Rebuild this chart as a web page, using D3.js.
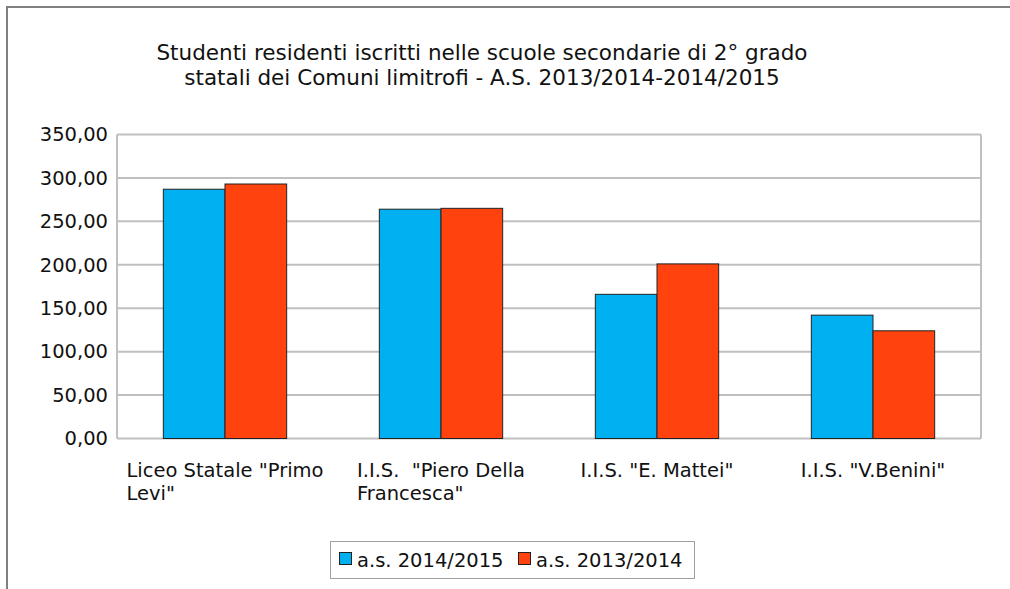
<!DOCTYPE html>
<html>
<head>
<meta charset="utf-8">
<script src="https://cdn.jsdelivr.net/npm/d3@7"></script>
<style>
  html, body { margin: 0; background: #fff; overflow: hidden; }
  svg { display: block; }
  text { font-family: "DejaVu Sans", Verdana, sans-serif; fill: #111; white-space: pre; }
</style>
</head>
<body>
<div id="chart"></div>
<script>
// chart data
var categories = [
  ['Liceo Statale "Primo', 'Levi"'],
  ['I.I.S.  "Piero Della', 'Francesca"'],
  ['I.I.S. "E. Mattei"'],
  ['I.I.S. "V.Benini"']
];
var seriesNames = ['a.s. 2014/2015', 'a.s. 2013/2014'];
var values2014 = [287, 264, 166, 142];
var values2013 = [293, 265, 201, 124];
var yTicks = [0, 50, 100, 150, 200, 250, 300, 350];
var titleLines = [
  'Studenti residenti iscritti nelle scuole secondarie di 2° grado',
  'statali dei Comuni limitrofi - A.S. 2013/2014-2014/2015'
];
var colors = ['#00b0f0', '#ff420e'];

window.onload = function() {
  var width = 1010;
  var height = 589;

  var svg = d3.select('#chart')
              .append('svg')
              .attr('width', width)
              .attr('height', height);

  // outer frame: only the top and left edges fall inside the picture
  svg.append('path')
     .attr('d', 'M7,' + height + 'V7H' + width)
     .attr('fill', 'none')
     .attr('stroke', '#808080')
     .attr('stroke-width', 2);

  // title
  svg.append('g').selectAll('text')
     .data(titleLines)
     .enter()
     .append('text')
     .attr('x', 482)
     .attr('y', function(d, i) { return 60 + i * 25; })
     .attr('text-anchor', 'middle')
     .style('font-size', '21.5px')
     .text(function(d) { return d; });

  var left = 117, right = 981, top = 134.5, bottom = 438.5;

  var x = d3.scaleBand()
            .domain(d3.range(categories.length))
            .range([left, right])
            .paddingInner(0.429)
            .paddingOuter(0.2145);
  var xs = d3.scaleBand()
             .domain([0, 1])
             .range([0, x.bandwidth()]);
  var y = d3.scaleLinear()
            .domain([0, 350])
            .range([bottom, top]);

  var it = d3.formatLocale({ decimal: ',', thousands: '.', grouping: [3], currency: ['€', ''] });
  var fmt = it.format('.2f');

  // grid lines
  svg.append('g').selectAll('line')
     .data(yTicks)
     .enter()
     .append('line')
     .attr('x1', left).attr('x2', right)
     .attr('y1', function(d) { return y(d); })
     .attr('y2', function(d) { return y(d); })
     .attr('stroke', '#c0c0c0')
     .attr('stroke-width', 2);

  // plot frame sides
  svg.append('line')
     .attr('x1', left).attr('x2', left)
     .attr('y1', top).attr('y2', bottom)
     .attr('stroke', '#c0c0c0').attr('stroke-width', 2);
  svg.append('line')
     .attr('x1', right).attr('x2', right)
     .attr('y1', top).attr('y2', bottom)
     .attr('stroke', '#c0c0c0').attr('stroke-width', 2);

  // y axis labels
  var yAxis = d3.axisLeft(y)
                .tickValues(yTicks)
                .tickSize(0)
                .tickPadding(9)
                .tickFormat(fmt);
  var ya = svg.append('g')
              .attr('transform', 'translate(' + left + ',0)')
              .call(yAxis);
  ya.select('.domain').remove();
  ya.selectAll('text')
    .style('font-size', '19.5px')
    .style('font-family', '"DejaVu Sans", Verdana, sans-serif')
    .attr('fill', '#111');

  // bars
  var series = [values2014, values2013];
  series.forEach(function(vals, s) {
    svg.append('g').selectAll('rect')
       .data(vals)
       .enter()
       .append('rect')
       .attr('x', function(d, i) { return x(i) + xs(s); })
       .attr('y', function(d) { return y(d); })
       .attr('width', xs.bandwidth())
       .attr('height', function(d) { return y(0) - y(d); })
       .attr('fill', colors[s])
       .attr('stroke', '#222')
       .attr('stroke-width', 1);
  });

  // category labels: a left-aligned block, centred under each group
  categories.forEach(function(lines, i) {
    var g = svg.append('g');
    var t = g.selectAll('text')
             .data(lines)
             .enter()
             .append('text')
             .attr('y', function(d, j) { return 477 + j * 23; })
             .style('font-size', '19.5px')
             .text(function(d) { return d; });
    var w = d3.max(t.nodes(), function(n) { return n.getComputedTextLength(); });
    t.attr('x', x(i) + x.bandwidth() / 2 - w / 2);
  });

  // legend
  var lg = svg.append('g');
  lg.append('rect')
    .attr('x', 330.5).attr('y', 541.5)
    .attr('width', 364).attr('height', 37)
    .attr('fill', '#fff')
    .attr('stroke', '#a0a0a0')
    .attr('stroke-width', 1);
  var lx = [339, 518];
  seriesNames.forEach(function(name, s) {
    lg.append('rect')
      .attr('x', lx[s] + 0.5).attr('y', 552.5)
      .attr('width', 12).attr('height', 12)
      .attr('fill', colors[s])
      .attr('stroke', '#222');
    lg.append('text')
      .attr('x', lx[s] + 18)
      .attr('y', 567)
      .style('font-size', '19.5px')
      .text(name);
  });
};
</script>
</body>
</html>
